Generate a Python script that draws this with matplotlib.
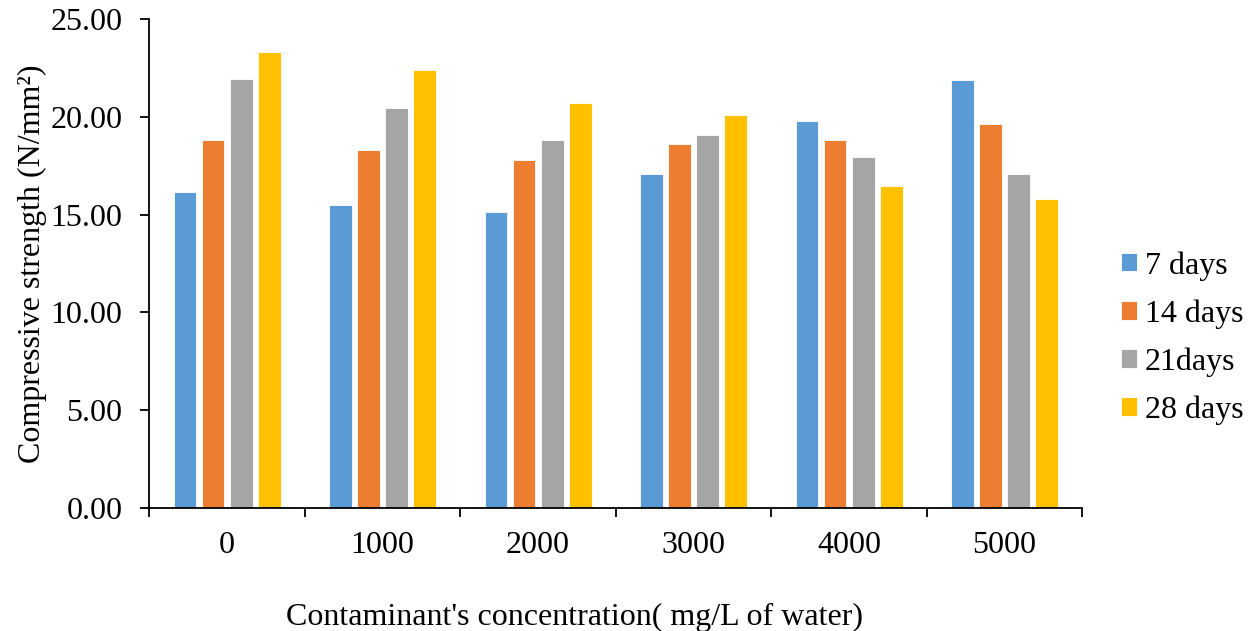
import numpy as np
import matplotlib
matplotlib.use("Agg")
import matplotlib.pyplot as plt
from matplotlib.ticker import FixedLocator, FuncFormatter

plt.rcParams['font.family'] = ['Liberation Serif', 'DejaVu Serif']
plt.rcParams['font.size'] = 23

# data
concentrations = ["0", "1000", "2000", "3000", "4000", "5000"]
series_names = ["7 days", "14 days", "21days", "28 days"]
days7 = [16.18, 15.50, 15.14, 17.09, 19.80, 21.89]
days14 = [18.83, 18.32, 17.80, 18.63, 18.83, 19.65]
days21 = [21.96, 20.47, 18.83, 19.07, 17.96, 17.07]
days28 = [23.31, 22.40, 20.69, 20.09, 16.47, 15.80]
colors = ["#5B9BD5", "#ED7D31", "#A5A5A5", "#FFC000"]

fig = plt.figure(figsize=(12.53, 6.31), dpi=100)
ax = fig.add_axes([0.1192, 0.1957, 0.7446, 0.7737])

x = np.arange(len(concentrations))
pitch = 0.181
for i, (vals, name) in enumerate(zip([days7, days14, days21, days28], series_names)):
    ax.bar(x + (i - 1.5) * pitch, vals, width=0.146, color=colors[i],
           edgecolor="white", linewidth=0.6, label=name, zorder=2)

ax.set_xlim(-0.5, len(concentrations) - 0.5)
ax.set_ylim(0, 25)
ax.set_yticks(np.arange(0, 26, 5))
ax.yaxis.set_major_formatter(FuncFormatter(lambda v, p: "%.2f" % v))

# x labels at centres, tick marks at the group boundaries
ax.set_xticks(x)
ax.set_xticklabels(concentrations)
ax.xaxis.set_minor_locator(FixedLocator(np.arange(-0.5, len(concentrations), 1.0)))
ax.tick_params(axis="x", which="major", length=0, pad=17)
ax.tick_params(axis="x", which="minor", length=6.5, width=1.3, direction="out")
ax.tick_params(axis="y", length=6.5, width=1.3, pad=13)

for s in ["top", "right"]:
    ax.spines[s].set_visible(False)
ax.spines["left"].set_linewidth(1.3)
ax.spines["bottom"].set_linewidth(1.3)

ax.set_ylabel("Compressive strength (N/mm²)")
ax.yaxis.set_label_coords(-0.11, 0.5)
ax.set_xlabel("Contaminant's concentration( mg/L of water)")
ax.xaxis.set_label_coords(0.456, -0.195)

fig.legend(loc="center left", bbox_to_anchor=(1121 / 1253, 1 - 338 / 631),
           frameon=False, borderpad=0, borderaxespad=0,
           handlelength=0.5, handleheight=0.5, handletextpad=0.25,
           labelspacing=0.58)

plt.savefig("out.png", dpi=100)
